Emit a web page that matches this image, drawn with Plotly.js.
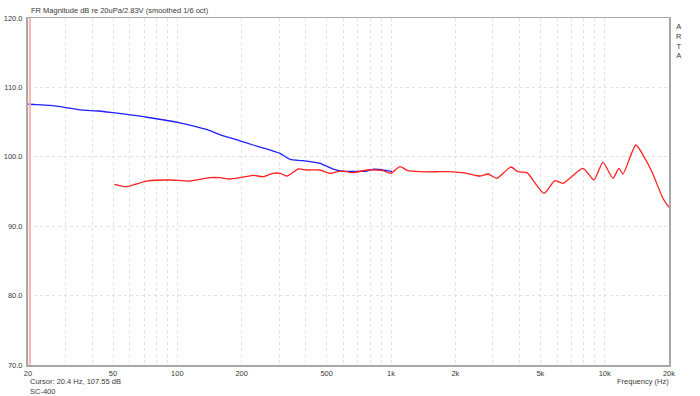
<!DOCTYPE html>
<html><head><meta charset="utf-8">
<script src="https://cdn.plot.ly/plotly-3.0.1.min.js"></script>
<style>html,body{margin:0;padding:0;background:#fff;}#chart{width:700px;height:396px;}</style>
</head><body><div id="chart"></div>
<script>
// Blue series (measured to ~1 kHz)
const blueFreq = [20, 20.4, 25.3, 30, 35, 43, 50, 72, 103, 138, 158, 196, 226, 302, 337, 387, 465, 535, 596, 772, 824, 957, 1010];
const blueDb   = [107.6, 107.57, 107.4, 107.1, 106.75, 106.6, 106.35, 105.7, 104.9, 103.9, 103.2, 102.3, 101.7, 100.5, 99.64, 99.44, 99.06, 98.24, 97.95, 97.95, 98.2, 98.0, 97.85];
// Red series (50 Hz to 20 kHz)
const redFreq = [50.7, 57.9, 71.9, 92.4, 114.6, 142, 158, 176, 196, 226, 252, 280, 302, 326, 367, 404, 465, 518, 577, 622, 664, 772, 859, 917, 999, 1101, 1200, 1366, 1694, 1826, 2267, 2607, 2842, 3130, 3640, 3926, 4326, 5196, 5848, 6376, 7910, 8906, 9812, 10930, 11660, 12170, 14000, 15430, 16640, 18730, 20000];
const redDb   = [96.04, 95.69, 96.51, 96.66, 96.51, 96.99, 96.99, 96.8, 96.99, 97.33, 97.13, 97.62, 97.62, 97.23, 98.24, 98.1, 98.1, 97.62, 97.95, 97.85, 97.71, 98.1, 98.1, 98.0, 97.62, 98.57, 98.0, 97.85, 97.85, 97.85, 97.62, 97.23, 97.52, 96.9, 98.53, 97.85, 97.71, 94.74, 96.56, 96.18, 98.34, 96.66, 99.21, 96.9, 98.34, 97.52, 101.7, 99.78, 97.85, 94.02, 92.7];
// Axis ticks
const xGrid = [20,30,40,50,60,70,80,90,100,200,300,400,500,600,700,800,900,1000,2000,3000,4000,5000,6000,7000,8000,9000,10000,20000];
const xLabeled = {20:'20',50:'50',100:'100',200:'200',500:'500',1000:'1k',2000:'2k',5000:'5k',10000:'10k',20000:'20k'};
const yTicks = [70,80,90,100,110,120];
const yTickText = ['70.0','80.0','90.0','100.0','110.0','120.0'];
const cursorFreq = 20.4;
const cursorDb = 107.55;

const font = {family:'Liberation Sans, Arial, sans-serif', size:7.5, color:'#3a3a3a'};

const traces = [
  {x: blueFreq, y: blueDb, type:'scatter', mode:'lines', line:{color:'#1f1fff', width:1.3, shape:'spline', smoothing:0.6}, hoverinfo:'skip'},
  {x: redFreq, y: redDb, type:'scatter', mode:'lines', line:{color:'#ff2020', width:1.3, shape:'spline', smoothing:0.6}, hoverinfo:'skip'}
];

const layout = {
  width:700, height:396,
  margin:{l:28, r:31, t:18, b:31},
  paper_bgcolor:'#fff', plot_bgcolor:'#fff',
  showlegend:false,
  font: font,
  xaxis:{
    type:'log', range:[Math.log10(20), Math.log10(20000)],
    tickmode:'array', tickvals: xGrid, ticktext: xGrid.map(v => xLabeled[v] || ''),
    showgrid:true, gridcolor:'#e2e2e2', griddash:'dot', gridwidth:1,
    ticks:'', showline:true, linecolor:'#a8a8a8', linewidth:1.5, mirror:true,
    zeroline:false, tickfont:font
  },
  yaxis:{
    range:[70,120], tickmode:'array', tickvals:yTicks, ticktext:yTickText,
    showgrid:true, gridcolor:'#e2e2e2', griddash:'dot', gridwidth:1,
    ticks:'', showline:true, linecolor:'#a8a8a8', linewidth:2, mirror:true,
    zeroline:false, tickfont:font, ticklabelstandoff:2
  },
  shapes:[
    {type:'line', xref:'x', yref:'paper', x0:cursorFreq, x1:cursorFreq, y0:0, y1:1, line:{color:'#ffb0b0', width:2}}
  ],
  annotations:[
    {text:'FR Magnitude dB re 20uPa/2.83V (smoothed 1/6 oct)', xref:'paper', yref:'paper', x:0, y:1, xshift:1, yshift:1, xanchor:'left', yanchor:'bottom', showarrow:false, font:font},
    {text:'A<br>R<br>T<br>A', xref:'paper', yref:'paper', x:1, y:1, xshift:5, yshift:-2, xanchor:'left', yanchor:'top', showarrow:false, font:{family:font.family, size:7.5, color:'#3a3a3a'}},
    {text:'Cursor: ' + cursorFreq + ' Hz, ' + cursorDb.toFixed(2) + ' dB', xref:'paper', yref:'paper', x:0, y:0, xshift:0, yshift:-10, xanchor:'left', yanchor:'top', showarrow:false, font:font},
    {text:'SC-400', xref:'paper', yref:'paper', x:0, y:0, xshift:0, yshift:-20, xanchor:'left', yanchor:'top', showarrow:false, font:font},
    {text:'Frequency (Hz)', xref:'paper', yref:'paper', x:1, y:0, xshift:2, yshift:-10, xanchor:'right', yanchor:'top', showarrow:false, font:font}
  ]
};

Plotly.newPlot('chart', traces, layout, {staticPlot:true, displayModeBar:false});
</script>
</body></html>
